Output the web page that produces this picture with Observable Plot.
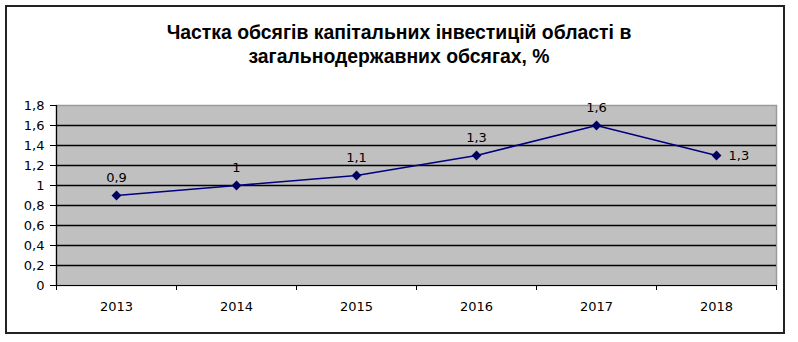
<!DOCTYPE html>
<html>
<head>
<meta charset="utf-8">
<script src="https://cdn.jsdelivr.net/npm/d3@7"></script>
<script src="https://cdn.jsdelivr.net/npm/@observablehq/plot@0.6"></script>
<style>
  body { margin: 0; background: #fff; }
  #wrap { position: relative; width: 798px; height: 342px; overflow: hidden; }
  #border { position: absolute; left: 5px; top: 5px; width: 776px; height: 325px; border: 2px solid #222; box-sizing: content-box; }
  #title { position: absolute; left: 0; top: 20px; width: 798px; text-align: center;
    font-family: "Liberation Sans", Arial, sans-serif; font-weight: bold;
    font-size: 20px; line-height: 24px; color: #000; transform: scaleX(0.97); }
  #chart { position: absolute; left: 0; top: 0; }
</style>
</head>
<body>
<div id="wrap">
  <div id="border"></div>
  <div id="title">Частка обсягів капітальних інвестицій області в<br>загальнодержавних обсягах, %</div>
  <div id="chart"></div>
</div>
<script>
const years = [2013, 2014, 2015, 2016, 2017, 2018];
const values = [0.9, 1.0, 1.1, 1.3, 1.6, 1.3];
const labels = ["0,9", "1", "1,1", "1,3", "1,6", "1,3"];
const yTicks = [0, 0.2, 0.4, 0.6, 0.8, 1.0, 1.2, 1.4, 1.6, 1.8];

const data = years.map((y, i) => ({year: y, value: values[i], label: labels[i]}));
const bounds = d3.range(years[0] - 0.5, years[years.length - 1] + 1, 1);
const fmt = d => String(Math.round(d * 10) / 10).replace(".", ",");
const x0 = years[0] - 0.5;
const lf = "DejaVu Sans, Verdana, sans-serif";

const chart = Plot.plot({
  width: 798,
  height: 342,
  marginLeft: 56,
  marginRight: 22,
  marginTop: 105,
  marginBottom: 57,
  style: {background: "transparent", fontFamily: "Liberation Sans, Arial, sans-serif", color: "#000"},
  x: {type: "linear", domain: [x0, years[years.length - 1] + 0.5], label: null},
  y: {domain: [0, 1.8], label: null},
  marks: [
    Plot.frame({fill: "#c0c0c0", stroke: "#9a9a9a", strokeWidth: 1.5}),
    Plot.ruleY(yTicks.filter(t => t > 0 && t < 1.8), {stroke: "#000", strokeWidth: 1.6}),
    Plot.ruleY([0], {stroke: "#000", strokeWidth: 1.2}),
    Plot.axisY({ticks: yTicks, tickFormat: () => "", tickSize: 6, stroke: "#000", label: null}),
    Plot.text(yTicks, {x: () => x0, y: d => d, text: fmt, dx: -12, textAnchor: "end", fontSize: 13, fontFamily: lf, fill: "#000"}),
    Plot.ruleX([x0], {stroke: "#000", strokeWidth: 1.2}),
    Plot.axisX({ticks: bounds, tickFormat: () => "", tickSize: 5, stroke: "#000", label: null}),
    Plot.text(years, {x: d => d, y: () => 0, text: d => String(d), dy: 21, fontSize: 13, fontFamily: lf, fill: "#000"}),
    Plot.line(data, {x: "year", y: "value", stroke: "#000080", strokeWidth: 1.5}),
    Plot.dot(data, {x: "year", y: "value", symbol: "diamond2", fill: "#000060", stroke: "#000060", r: 3.5}),
    Plot.text(data.slice(0, 5), {x: "year", y: "value", text: "label", dy: -18, fontSize: 13, fontFamily: lf, fill: "#000"}),
    Plot.text(data.slice(5), {x: "year", y: "value", text: "label", dx: 12, textAnchor: "start", fontSize: 13, fontFamily: lf, fill: "#000"})
  ]
});
document.getElementById("chart").appendChild(chart);
</script>
</body>
</html>
